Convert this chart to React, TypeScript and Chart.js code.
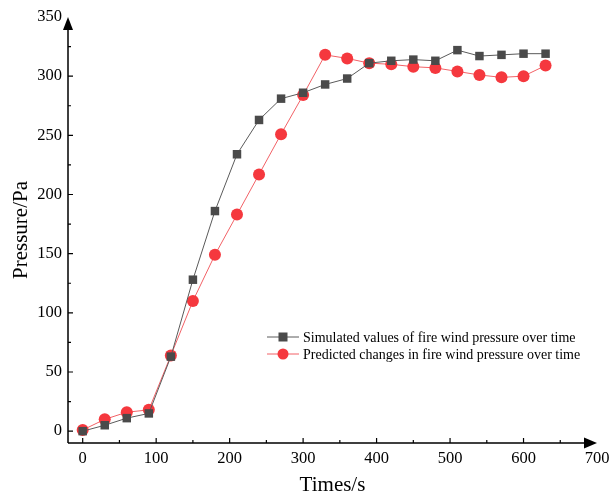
import React, { useEffect, useRef } from "react";
import { Chart, registerables } from "chart.js";

Chart.register(...registerables);

const times = [0, 30, 60, 90, 120, 150, 180, 210, 240, 270, 300, 330, 360, 390, 420, 450, 480, 510, 540, 570, 600, 630];
const simulated = [0, 5, 11, 15, 63, 128, 186, 234, 263, 281, 286, 293, 298, 311, 313, 314, 313, 322, 317, 318, 319, 319];
const predicted = [1, 10, 16, 18, 64, 110, 149, 183, 217, 251, 284, 318, 315, 311, 310, 308, 307, 304, 301, 299, 300, 309];
const xMajorTicks = [0, 100, 200, 300, 400, 500, 600, 700];
const xMinorTicks = [50, 150, 250, 350, 450, 550, 650];
const yMajorTicks = [0, 50, 100, 150, 200, 250, 300, 350];
const yMinorTicks = [25, 75, 125, 175, 225, 275, 325];
const seriesNames = [
  "Simulated values of fire wind pressure over time",
  "Predicted changes in fire wind pressure over time",
];

const FONT = "'Liberation Serif', 'Times New Roman', serif";
const BLACK_PT = "#4a4a4a";
const BLACK_LN = "#5a5a5a";
const RED_PT = "#f5383e";
const RED_LN = "#f26166";

const axisDecor = {
  id: "axisDecor",
  afterDraw(chart: any) {
    const ctx = chart.ctx;
    const xs = chart.scales.x;
    const ys = chart.scales.y;
    const area = chart.chartArea;
    ctx.save();
    ctx.strokeStyle = "#000";
    ctx.fillStyle = "#000";
    ctx.lineWidth = 1.5;
    ctx.beginPath();
    ctx.moveTo(area.left, area.bottom);
    ctx.lineTo(area.right - 4, area.bottom);
    ctx.moveTo(area.left, area.bottom);
    ctx.lineTo(area.left, area.top + 4);
    ctx.stroke();
    ctx.lineWidth = 1.2;
    ctx.beginPath();
    xMajorTicks.forEach((v) => {
      if (v >= 700) return;
      const px = xs.getPixelForValue(v);
      ctx.moveTo(px, area.bottom);
      ctx.lineTo(px, area.bottom - 5);
    });
    xMinorTicks.forEach((v) => {
      const px = xs.getPixelForValue(v);
      ctx.moveTo(px, area.bottom);
      ctx.lineTo(px, area.bottom - 3);
    });
    yMajorTicks.forEach((v) => {
      if (v >= 350) return;
      const py = ys.getPixelForValue(v);
      ctx.moveTo(area.left, py);
      ctx.lineTo(area.left + 5, py);
    });
    yMinorTicks.forEach((v) => {
      const py = ys.getPixelForValue(v);
      ctx.moveTo(area.left, py);
      ctx.lineTo(area.left + 3, py);
    });
    ctx.stroke();
    const tipX = xs.getPixelForValue(700);
    ctx.beginPath();
    ctx.moveTo(tipX, area.bottom);
    ctx.lineTo(tipX - 13, area.bottom - 5.5);
    ctx.lineTo(tipX - 13, area.bottom + 5.5);
    ctx.closePath();
    ctx.fill();
    const tipY = ys.getPixelForValue(350);
    ctx.beginPath();
    ctx.moveTo(area.left, tipY);
    ctx.lineTo(area.left - 5, tipY + 13);
    ctx.lineTo(area.left + 5, tipY + 13);
    ctx.closePath();
    ctx.fill();

    const lx = 267;
    const rows = [337, 354];
    ctx.font = `14px ${FONT}`;
    ctx.textBaseline = "middle";
    rows.forEach((ry, i) => {
      ctx.strokeStyle = i === 0 ? BLACK_LN : RED_LN;
      ctx.lineWidth = 1;
      ctx.beginPath();
      ctx.moveTo(lx, ry);
      ctx.lineTo(lx + 32, ry);
      ctx.stroke();
      ctx.fillStyle = i === 0 ? BLACK_PT : RED_PT;
      if (i === 0) {
        ctx.fillRect(lx + 16 - 4.5, ry - 4.5, 9, 9);
      } else {
        ctx.beginPath();
        ctx.arc(lx + 16, ry, 5.5, 0, Math.PI * 2);
        ctx.fill();
      }
      ctx.fillStyle = "#000";
      ctx.fillText(seriesNames[i], lx + 36, ry + 1);
    });
    ctx.restore();
  },
};

export default function App() {
  const ref = useRef<HTMLCanvasElement | null>(null);
  useEffect(() => {
    if (!ref.current) return;
    const chart = new Chart(ref.current, {
      type: "line",
      data: {
        datasets: [
          {
            label: seriesNames[0],
            data: times.map((t, i) => ({ x: t, y: simulated[i] })),
            borderColor: BLACK_LN,
            backgroundColor: BLACK_PT,
            borderWidth: 1,
            pointStyle: "rect",
            pointRadius: 6,
            pointBorderWidth: 0,
            pointBackgroundColor: BLACK_PT,
            tension: 0,
          },
          {
            label: seriesNames[1],
            data: times.map((t, i) => ({ x: t, y: predicted[i] })),
            borderColor: RED_LN,
            backgroundColor: RED_PT,
            borderWidth: 1,
            pointStyle: "circle",
            pointRadius: 6,
            pointBorderWidth: 0,
            pointBackgroundColor: RED_PT,
            tension: 0,
          },
        ],
      },
      options: {
        animation: false,
        responsive: false,
        maintainAspectRatio: false,
        layout: { padding: { left: 0, right: 12, top: 17, bottom: 0 } },
        plugins: { legend: { display: false }, tooltip: { enabled: false } },
        scales: {
          x: {
            type: "linear",
            min: -20,
            max: 700,
            grid: { display: false, drawTicks: false },
            border: { display: false },
            afterBuildTicks: (s: any) => {
              s.ticks = xMajorTicks.map((v) => ({ value: v }));
            },
            afterFit: (s: any) => {
              s.height = 57;
              s.paddingLeft = 0;
              s.paddingRight = 0;
            },
            ticks: {
              color: "#000",
              padding: 6,
              maxRotation: 0,
              autoSkip: false,
              font: { family: FONT, size: 16.5 },
            },
            title: {
              display: true,
              text: "Times/s",
              color: "#000",
              padding: { top: 4, bottom: 2 },
              font: { family: FONT, size: 21 },
            },
          },
          y: {
            type: "linear",
            min: -10,
            max: 350,
            grid: { display: false, drawTicks: false },
            border: { display: false },
            afterBuildTicks: (s: any) => {
              s.ticks = yMajorTicks.map((v) => ({ value: v }));
            },
            afterFit: (s: any) => {
              s.width = 68;
              s.paddingTop = 0;
              s.paddingBottom = 0;
            },
            ticks: {
              color: "#000",
              padding: 6,
              autoSkip: false,
              font: { family: FONT, size: 16.5 },
            },
            title: {
              display: true,
              text: "Pressure/Pa",
              color: "#000",
              padding: { top: 9, bottom: 0 },
              font: { family: FONT, size: 21 },
            },
          },
        },
      },
      plugins: [axisDecor],
    });
    return () => chart.destroy();
  }, []);
  return (
    <div style={{ position: "absolute", left: 0, top: 0, width: 609, height: 500, background: "#fff" }}>
      <canvas ref={ref} width={609} height={500} style={{ width: 609, height: 500 }} />
    </div>
  );
}
